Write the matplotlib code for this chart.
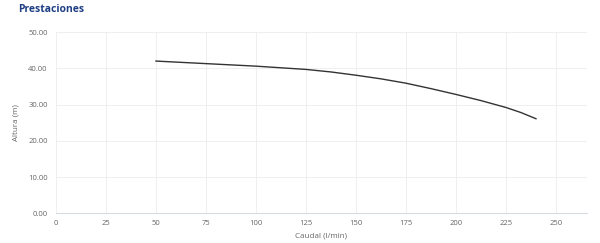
import matplotlib
matplotlib.use("Agg")
import matplotlib.pyplot as plt

caudal = [50, 75, 100, 125, 137.5, 150, 162.5, 175, 187.5, 200, 212.5, 225, 232.5, 240]
altura = [42.0, 41.3, 40.6, 39.7, 39.0, 38.1, 37.1, 35.9, 34.4, 32.8, 31.1, 29.2, 27.8, 26.1]
x_ticks = [0, 25, 50, 75, 100, 125, 150, 175, 200, 225, 250]
y_ticks = [0, 10, 20, 30, 40, 50]
title = "Prestaciones"
x_label = "Caudal (l/min)"
y_label = "Altura (m)"

plt.rcParams['font.family'] = ['Open Sans', 'DejaVu Sans']

fig = plt.figure(figsize=(6, 2.43), dpi=100)
ax = fig.add_axes([0.0933, 0.122, 0.885, 0.746])

ax.plot(caudal, altura, color='#333333', linewidth=1.0, solid_joinstyle='round')

ax.set_xlim(0, 265.5)
ax.set_ylim(0, 50)
ax.set_xticks(x_ticks)
ax.set_yticks(y_ticks)
ax.set_yticklabels([f"{v:.2f}" for v in y_ticks])
ax.grid(True, color='#ececec', linewidth=0.6)
ax.set_axisbelow(True)
for s in ['top', 'right', 'left']:
    ax.spines[s].set_visible(False)
ax.spines['bottom'].set_color('#d8dbe3')
ax.spines['bottom'].set_linewidth(0.8)
ax.tick_params(axis='both', length=0, labelsize=5.5, labelcolor='#666666')
ax.tick_params(axis='x', pad=5)
ax.tick_params(axis='y', pad=6)

ax.set_xlabel(x_label, fontsize=5.8, color='#666666', labelpad=4)
ax.set_ylabel(y_label, fontsize=5.8, color='#666666', labelpad=6)

fig.text(18/600, 1 - 10/243, title, fontsize=7.5, fontweight='bold', color='#1f3f84',
         ha='left', va='center')

fig.savefig("out.png", dpi=100, facecolor='white')
